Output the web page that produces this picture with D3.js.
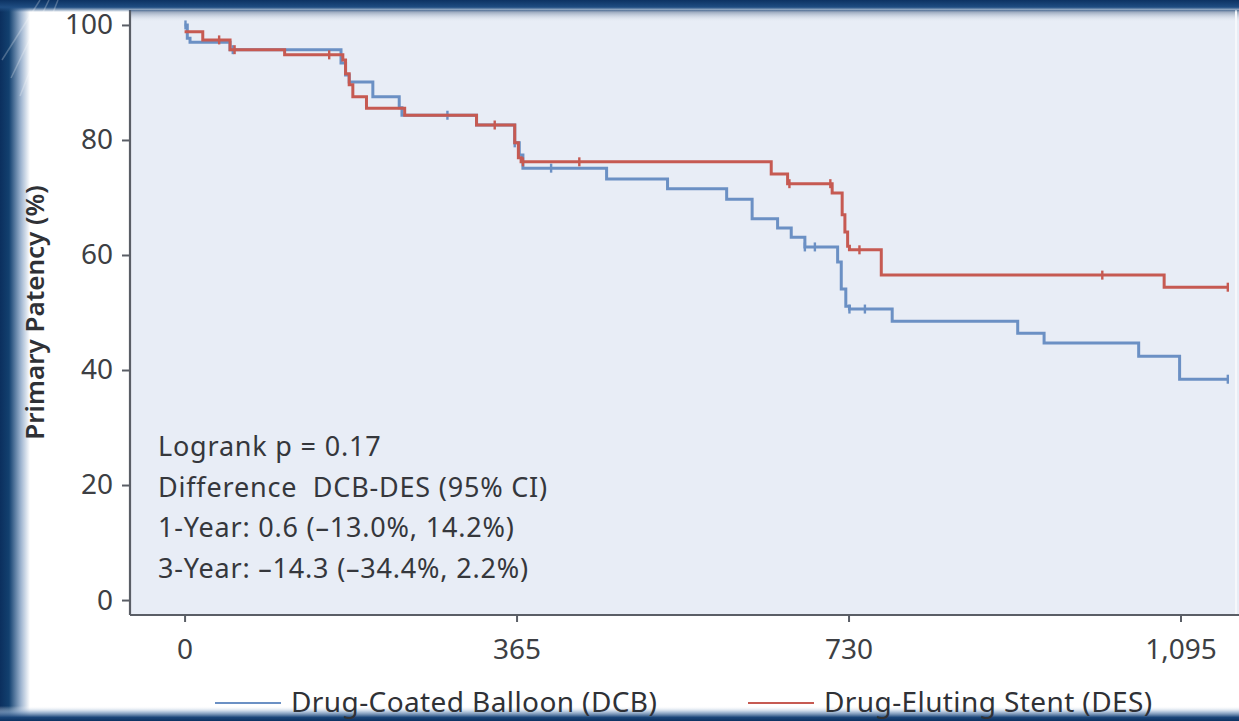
<!DOCTYPE html>
<html>
<head>
<meta charset="utf-8">
<script src="https://cdn.jsdelivr.net/npm/d3@7"></script>
<style>
  html, body { margin: 0; padding: 0; background: #ffffff; }
  svg { display: block; }
  text { font-family: "Noto Sans", "Open Sans", sans-serif; }
</style>
</head>
<body>
<svg id="chart" width="1239" height="721"></svg>
<script>
// Kaplan-Meier primary patency, days since procedure
const dcbDays = [0, 3, 6, 50, 172, 177, 181, 207, 236, 239, 321, 363, 368, 372, 464, 531, 596, 624, 652, 667, 682, 718, 722, 727, 731, 778, 916, 945, 1049, 1094, 1147];
const dcbPatency = [100, 97.7, 97.0, 95.7, 93.4, 91.3, 90.1, 87.5, 85.6, 84.3, 82.6, 79.5, 77.4, 75.1, 73.2, 71.5, 69.7, 66.3, 64.7, 63.1, 61.4, 58.8, 54.1, 51.1, 50.6, 48.5, 46.4, 44.7, 42.4, 38.4, 38.4];
const desDays = [0, 20, 50, 110, 174, 177, 181, 185, 200, 242, 321, 363, 367, 370, 645, 663, 712, 723, 726, 729, 731, 766, 1077, 1147];
const desPatency = [98.8, 97.4, 95.7, 94.8, 93.9, 91.5, 89.6, 87.5, 85.5, 84.3, 82.6, 79.5, 76.9, 76.2, 74.1, 72.4, 70.8, 67.0, 64.0, 61.5, 60.9, 56.5, 54.4, 54.4];
// censored observations
const dcbCensored = [1, 53, 289, 363, 403, 682, 693, 731, 748, 1147];
const desCensored = [38, 55, 159, 341, 372, 434, 665, 710, 742, 1009, 1147];

const xTicks = [0, 365, 730, 1095];
const yTicks = [0, 20, 40, 60, 80, 100];
const seriesNames = ["Drug-Coated Balloon (DCB)", "Drug-Eluting Stent (DES)"];
const seriesColors = ["#6b90c4", "#c65a52"];
const statLines = [
  "Logrank p = 0.17",
  "Difference  DCB-DES (95% CI)",
  "1-Year: 0.6 (\u201313.0%, 14.2%)",
  "3-Year: \u201314.3 (\u201334.4%, 2.2%)"
];
const yTitle = "Primary Patency (%)";

const svg = d3.select("#chart");
const W = 1239, H = 721;
const panel = { left: 130, top: 10, right: 1236, bottom: 615 };

const x = d3.scaleLinear().domain([-60, 1156]).range([panel.left, panel.right]);
const y = d3.scaleLinear().domain([-2.6, 102.6]).range([panel.bottom, panel.top]);

const defs = svg.append("defs");
const gLeft = defs.append("linearGradient").attr("id", "edgeLeft").attr("x1", 0).attr("x2", 1).attr("y1", 0).attr("y2", 0);
gLeft.append("stop").attr("offset", 0).attr("stop-color", "#0b2f5e");
gLeft.append("stop").attr("offset", 0.3).attr("stop-color", "#12406f");
gLeft.append("stop").attr("offset", 0.7).attr("stop-color", "#9fb5d0");
gLeft.append("stop").attr("offset", 1).attr("stop-color", "#ffffff");
const gTop = defs.append("linearGradient").attr("id", "edgeTop").attr("x1", 0).attr("x2", 0).attr("y1", 0).attr("y2", 1);
gTop.append("stop").attr("offset", 0).attr("stop-color", "#0c3262");
gTop.append("stop").attr("offset", 0.6).attr("stop-color", "#1f4d82");
gTop.append("stop").attr("offset", 1).attr("stop-color", "#1f4d82").attr("stop-opacity", 0);
const gBottom = defs.append("linearGradient").attr("id", "edgeBottom").attr("x1", 0).attr("x2", 0).attr("y1", 0).attr("y2", 1);
gBottom.append("stop").attr("offset", 0).attr("stop-color", "#ffffff").attr("stop-opacity", 0);
gBottom.append("stop").attr("offset", 0.4).attr("stop-color", "#8aa6c8").attr("stop-opacity", 0.7);
gBottom.append("stop").attr("offset", 0.75).attr("stop-color", "#1a4579");
gBottom.append("stop").attr("offset", 1).attr("stop-color", "#0c3262");
const gPanelTop = defs.append("linearGradient").attr("id", "panelTop").attr("x1", 0).attr("x2", 0).attr("y1", 0).attr("y2", 1);
gPanelTop.append("stop").attr("offset", 0).attr("stop-color", "#5d7393").attr("stop-opacity", 0.8);
gPanelTop.append("stop").attr("offset", 1).attr("stop-color", "#e8edf6").attr("stop-opacity", 0);

// page and plotting panel
svg.append("rect").attr("width", W).attr("height", H).attr("fill", "#ffffff");
svg.append("rect")
  .attr("x", panel.left).attr("y", panel.top)
  .attr("width", W - panel.left).attr("height", panel.bottom - panel.top)
  .attr("fill", "#e8edf6");
svg.append("rect")
  .attr("x", panel.left).attr("y", panel.top)
  .attr("width", W - panel.left).attr("height", 12)
  .attr("fill", "url(#panelTop)");
svg.append("line")
  .attr("x1", panel.right).attr("x2", panel.right)
  .attr("y1", panel.top).attr("y2", panel.bottom)
  .attr("stroke", "#f6f8fb").attr("stroke-width", 2);

// axes
const yAxis = d3.axisLeft(y).tickValues(yTicks).tickSize(8).tickPadding(9).tickFormat(d3.format("d"));
const xAxis = d3.axisBottom(x).tickValues(xTicks).tickSize(8).tickPadding(16).tickFormat(d3.format(","));

const gy = svg.append("g").attr("transform", `translate(${panel.left},0)`).call(yAxis);
gy.select(".domain").attr("d", `M0,${panel.top}V${panel.bottom}`);
const gx = svg.append("g").attr("transform", `translate(0,${panel.bottom})`).call(xAxis);
gx.select(".domain").attr("d", `M${panel.left},0H${W}`);

[gx, gy].forEach(g => {
  g.select(".domain").attr("stroke", "#5a5e66").attr("stroke-width", 2.2);
  g.selectAll(".tick line").attr("stroke", "#5a5e66").attr("stroke-width", 2);
  g.selectAll(".tick text")
    .attr("fill", "#3d3f44")
    .style("font-size", "28px")
    .style("font-family", "'Noto Sans', sans-serif");
});
gx.selectAll(".tick line").attr("y2", 7);

// survival curves
const series = [
  { days: dcbDays, vals: dcbPatency, cens: dcbCensored, color: seriesColors[0] },
  { days: desDays, vals: desPatency, cens: desCensored, color: seriesColors[1] }
];
const stepLine = d3.line().x(d => x(d[0])).y(d => y(d[1])).curve(d3.curveStepAfter);

function valueAt(s, day) {
  const i = d3.bisectRight(s.days, day) - 1;
  return s.vals[Math.max(0, i)];
}

series.forEach(s => {
  const pts = s.days.map((d, i) => [d, s.vals[i]]);
  svg.append("path")
    .attr("d", stepLine(pts))
    .attr("fill", "none")
    .attr("stroke", s.color)
    .attr("stroke-width", 3)
    .attr("stroke-linejoin", "miter");
  svg.append("g").selectAll("line")
    .data(s.cens)
    .join("line")
    .attr("x1", d => x(d)).attr("x2", d => x(d))
    .attr("y1", d => y(valueAt(s, d)) - 4.5)
    .attr("y2", d => y(valueAt(s, d)) + 4.5)
    .attr("stroke", s.color)
    .attr("stroke-width", 2.4);
});

// statistics block
svg.append("g").selectAll("text")
  .data(statLines)
  .join("text")
  .attr("x", 158)
  .attr("y", (d, i) => 456 + i * 40.5)
  .attr("fill", "#35373c")
  .style("font-size", "27px")
  .style("letter-spacing", "0.8px")
  .style("white-space", "pre")
  .text(d => d);

// framing bands
svg.append("rect").attr("x", 0).attr("y", 0).attr("width", 30).attr("height", H).attr("fill", "url(#edgeLeft)");
svg.append("rect").attr("x", 0).attr("y", 0).attr("width", W).attr("height", 12).attr("fill", "url(#edgeTop)");
svg.append("rect").attr("x", 0).attr("y", 706).attr("width", W).attr("height", 15).attr("fill", "url(#edgeBottom)");
// faint light streaks in the top-left corner
svg.append("g").selectAll("line")
  .data([0, 9, 18])
  .join("line")
  .attr("x1", d => 2 + d).attr("y1", d => 60 + d * 2)
  .attr("x2", d => 40 + d).attr("y2", 0)
  .attr("stroke", "#ffffff").attr("stroke-opacity", 0.25).attr("stroke-width", 1.5);

// legend
const legend = svg.append("g");
const legendItems = [
  { name: seriesNames[0], color: seriesColors[0], x0: 215 },
  { name: seriesNames[1], color: seriesColors[1], x0: 748 }
];
legendItems.forEach(it => {
  legend.append("line")
    .attr("x1", it.x0).attr("x2", it.x0 + 66)
    .attr("y1", 703).attr("y2", 703)
    .attr("stroke", it.color).attr("stroke-width", 2);
  legend.append("text")
    .attr("x", it.x0 + 76).attr("y", 712)
    .attr("fill", "#2f3136")
    .style("font-size", "28px")
    .style("letter-spacing", "0.4px")
    .text(it.name);
});

// y-axis title
svg.append("text")
  .attr("transform", `translate(44,${(panel.top + panel.bottom) / 2}) rotate(-90)`)
  .attr("text-anchor", "middle")
  .attr("fill", "#2f3136")
  .style("font-size", "26px")
  .style("font-weight", 600)
  .text(yTitle);
</script>
</body>
</html>
